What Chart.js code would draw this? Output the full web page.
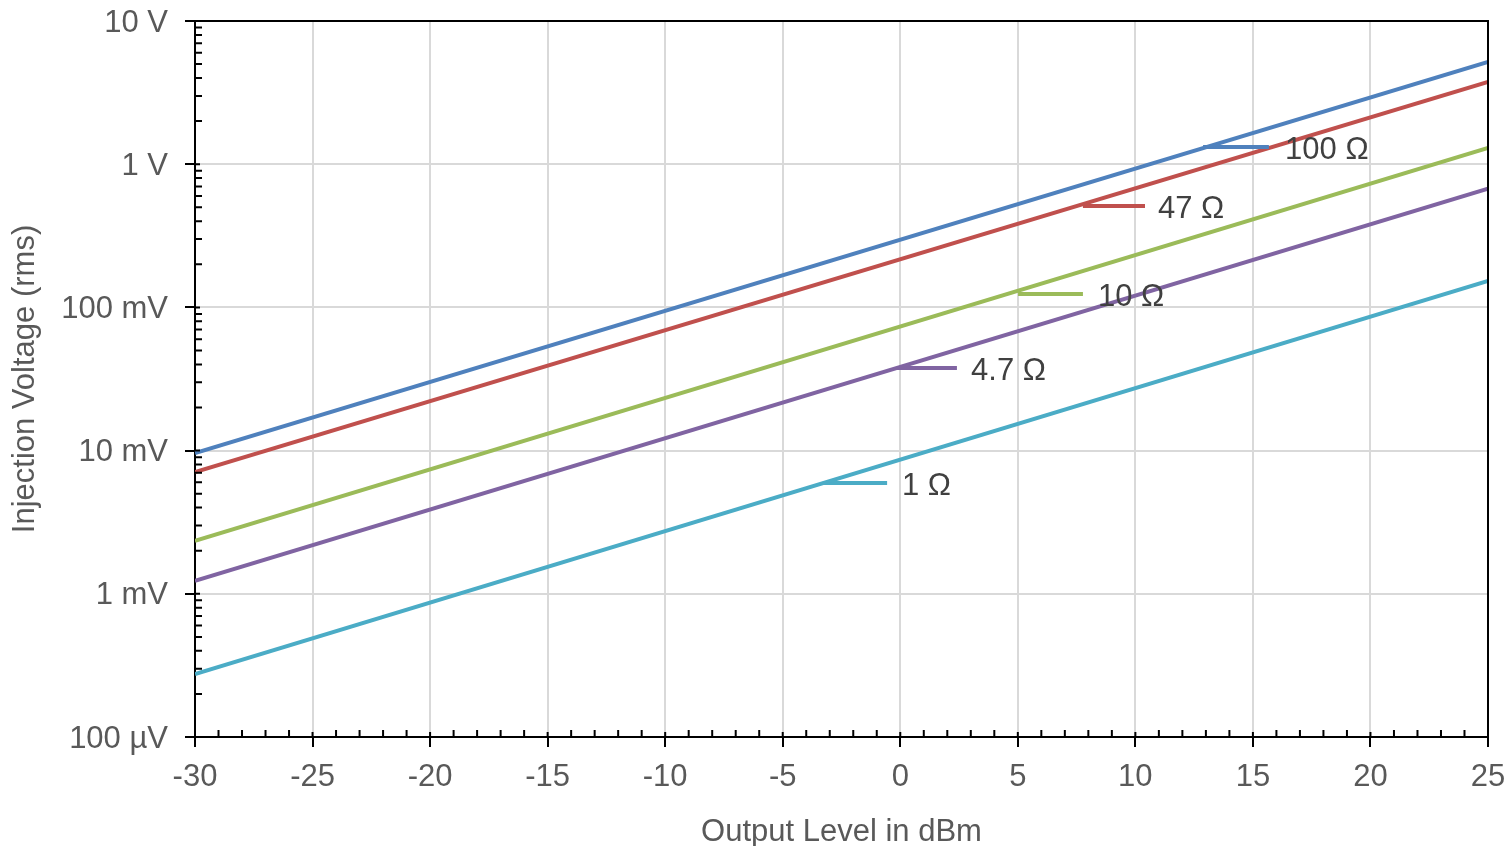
<!DOCTYPE html>
<html>
<head>
<meta charset="utf-8">
<script src="https://cdn.jsdelivr.net/npm/chart.js@4/dist/chart.umd.min.js"></script>
<style>
html, body { margin: 0; padding: 0; background: #fff; }
#wrap { width: 1509px; height: 846px; }
</style>
</head>
<body>
<div id="wrap"><canvas id="line-chart"></canvas></div>
<script>
// output level (dBm) at the two ends of every line
const outputLevel = [-30, 25];

// injection voltage (V rms)
const volt100 = [0.00962, 5.17];
const volt47 = [0.00709, 3.75];
const volt10 = [0.00234, 1.30];
const volt4p7 = [0.00123, 0.676];
const volt1 = [0.000275, 0.153];

const seriesNames = ['100 Ω', '47 Ω', '10 Ω', '4.7 Ω', '1 Ω'];

const xTicks = [-30, -25, -20, -15, -10, -5, 0, 5, 10, 15, 20, 25];
const yTicks = [0.0001, 0.001, 0.01, 0.1, 1, 10];
const yTickLabels = ['100 µV', '1 mV', '10 mV', '100 mV', '1 V', '10 V'];

// leader lines for the labels (dBm / volts)
const leaderStart = [12.88, 7.77, 5.01, -0.14, -3.29];
const leaderEnd = [15.68, 10.41, 7.77, 2.41, -0.56];
const leaderLevel = [1.318, 0.511, 0.124, 0.0377, 0.00594];
const labelAt = [16.37, 10.96, 8.41, 3.01, 0.07];

const colores = ['#4f81bd', '#c0504d', '#9bbb59', '#8064a2', '#4bacc6'];
const fuente = "'Liberation Sans', Arial, sans-serif";

const allVolts = [volt100, volt47, volt10, volt4p7, volt1];

let datasets = [];
for (let i = 0; i < allVolts.length; i++) {
    datasets.push({
        label: seriesNames[i],
        data: outputLevel.map((x, j) => ({ x: x, y: allVolts[i][j] })),
        borderColor: colores[i],
        backgroundColor: colores[i],
        borderWidth: 4,
        pointRadius: 0,
        fill: false
    });
    datasets.push({
        label: seriesNames[i] + ' leader',
        data: [{ x: leaderStart[i], y: leaderLevel[i] }, { x: leaderEnd[i], y: leaderLevel[i] }],
        borderColor: colores[i],
        borderWidth: 4,
        pointRadius: 0,
        fill: false
    });
}

const extras = {
    id: 'extras',
    afterDatasetsDraw(chart) {
        const ctx = chart.ctx;
        const xs = chart.scales.x;
        const ys = chart.scales.y;
        const a = chart.chartArea;
        ctx.save();

        // frame top / right
        ctx.strokeStyle = '#000';
        ctx.lineWidth = 2;
        ctx.beginPath();
        ctx.moveTo(a.left, a.top);
        ctx.lineTo(a.right, a.top);
        ctx.lineTo(a.right, a.bottom);
        ctx.stroke();

        // minor ticks x
        ctx.beginPath();
        for (let v = -30; v <= 25; v++) {
            let px = xs.getPixelForValue(v);
            let len = (v % 5 === 0) ? 5 : 7;
            ctx.moveTo(px, a.bottom);
            ctx.lineTo(px, a.bottom - len);
        }
        // minor ticks y
        for (let d = 0; d < yTicks.length; d++) {
            let py = ys.getPixelForValue(yTicks[d]);
            ctx.moveTo(a.left, py);
            ctx.lineTo(a.left + 5, py);
            if (d < yTicks.length - 1) {
                for (let m = 2; m <= 9; m++) {
                    let p = ys.getPixelForValue(yTicks[d] * m);
                    ctx.moveTo(a.left, p);
                    ctx.lineTo(a.left + 7, p);
                }
            }
        }
        ctx.stroke();

        // labels
        ctx.fillStyle = '#404040';
        ctx.font = '31px ' + fuente;
        ctx.textAlign = 'left';
        ctx.textBaseline = 'middle';
        for (let i = 0; i < seriesNames.length; i++) {
            ctx.fillText(seriesNames[i], xs.getPixelForValue(labelAt[i]), ys.getPixelForValue(leaderLevel[i]) + 3);
        }
        ctx.restore();
    }
};

new Chart(document.getElementById('line-chart'), {
    type: 'line',
    data: { datasets: datasets },
    plugins: [extras],
    options: {
        responsive: true,
        maintainAspectRatio: false,
        animation: false,
        events: [],
        layout: { padding: { top: 21, right: 21, left: 0, bottom: 0 } },
        plugins: { legend: { display: false }, tooltip: { enabled: false } },
        scales: {
            x: {
                type: 'linear',
                min: -30,
                max: 25,
                afterBuildTicks: (s) => { s.ticks = xTicks.map(v => ({ value: v })); },
                afterFit: (s) => { s.height = 109; s.paddingLeft = 0; s.paddingRight = 0; },
                grid: { color: '#d9d9d9', lineWidth: 2, tickColor: '#000', tickWidth: 2, tickLength: 10 },
                border: { color: '#000', width: 2 },
                ticks: { color: '#595959', font: { family: fuente, size: 31 }, padding: 12, autoSkip: false, maxRotation: 0 },
                title: {
                    display: true,
                    text: 'Output Level in dBm',
                    color: '#595959',
                    font: { family: fuente, size: 31 },
                    padding: { top: 0, bottom: -5 }
                }
            },
            y: {
                type: 'logarithmic',
                min: 0.0001,
                max: 10,
                afterBuildTicks: (s) => { s.ticks = yTicks.map(v => ({ value: v })); },
                afterFit: (s) => { s.width = 195; s.paddingTop = 0; s.paddingBottom = 0; },
                grid: { color: '#d9d9d9', lineWidth: 2, tickColor: '#000', tickWidth: 2, tickLength: 10 },
                border: { color: '#000', width: 2 },
                ticks: {
                    color: '#595959',
                    font: { family: fuente, size: 31 },
                    padding: 17,
                    labelOffset: 2,
                    autoSkip: false,
                    callback: (v) => yTickLabels[yTicks.indexOf(v)]
                },
                title: {
                    display: true,
                    text: 'Injection Voltage (rms)',
                    color: '#595959',
                    font: { family: fuente, size: 31 },
                    padding: { top: 7, bottom: 0 }
                }
            }
        }
    }
});
</script>
</body>
</html>
